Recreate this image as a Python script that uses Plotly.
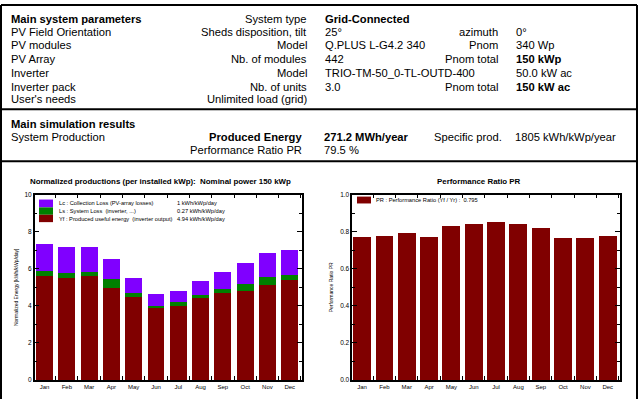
import plotly.graph_objects as go

# ---------------- data ----------------
months = ["Jan", "Feb", "Mar", "Apr", "May", "Jun", "Jul", "Aug", "Sep", "Oct", "Nov", "Dec"]
yf_values = [5.61, 5.50, 5.61, 4.97, 4.49, 3.86, 4.02, 4.44, 4.72, 4.81, 5.13, 5.40]   # produced useful energy
ls_values = [0.26, 0.28, 0.21, 0.49, 0.23, 0.14, 0.21, 0.17, 0.20, 0.36, 0.42, 0.26]   # system loss
lc_values = [1.49, 1.37, 1.33, 1.05, 0.78, 0.65, 0.58, 0.73, 0.90, 1.13, 1.28, 1.38]   # collection loss
pr_values = [0.770, 0.777, 0.791, 0.770, 0.830, 0.840, 0.851, 0.840, 0.818, 0.764, 0.764, 0.777]
energy_ticks = [0, 2, 4, 6, 8, 10]
pr_ticks = [0.0, 0.2, 0.4, 0.6, 0.8, 1.0]
pr_tick_labels = ["0.0", "0.2", "0.4", "0.6", "0.8", "1.0"]

C_LC = "#8000FF"
C_LS = "#008000"
C_YF = "#800000"

W, H = 639, 402
FONT = "Liberation Sans, Arial, sans-serif"


def X(px):
    return px / W


def Y(py):
    return 1 - py / H


fig = go.Figure()
fig.add_trace(go.Bar(x=months, y=yf_values, marker=dict(color=C_YF, line=dict(width=0)),
                     width=0.76, xaxis="x", yaxis="y", showlegend=False))
fig.add_trace(go.Bar(x=months, y=ls_values, marker=dict(color=C_LS, line=dict(width=0)),
                     width=0.76, xaxis="x", yaxis="y", showlegend=False))
fig.add_trace(go.Bar(x=months, y=lc_values, marker=dict(color=C_LC, line=dict(width=0)),
                     width=0.76, xaxis="x", yaxis="y", showlegend=False))
fig.add_trace(go.Bar(x=months, y=pr_values, marker=dict(color=C_YF, line=dict(width=0)),
                     width=0.8, xaxis="x2", yaxis="y2", showlegend=False))

plot_top, plot_bot = 194, 382.7
common_x = dict(type="category", range=[-0.44, 11.55], tickson="boundaries", ticks="inside",
                ticklen=4, tickwidth=1, tickcolor="black", mirror="ticks", showline=True,
                linecolor="black", linewidth=1.5, showgrid=False, zeroline=False,
                tickfont=dict(size=6, family=FONT, color="black"), fixedrange=True)
common_y = dict(ticks="inside", ticklen=5, tickwidth=1, tickcolor="black", mirror="ticks",
                showline=True, linecolor="black", linewidth=1.5, showgrid=False, zeroline=False,
                tickfont=dict(size=6.5, family=FONT, color="black"), fixedrange=True)

fig.update_layout(
    width=W, height=H,
    margin=dict(l=0, r=0, t=0, b=0),
    paper_bgcolor="white", plot_bgcolor="white",
    barmode="stack",
    showlegend=False,
    font=dict(family=FONT, color="black"),
    xaxis=dict(domain=[X(34.7), X(302)], anchor="y", **common_x),
    yaxis=dict(domain=[Y(plot_bot), Y(plot_top)], anchor="x", range=[0, 10],
               tickvals=energy_ticks,
               minor=dict(tickvals=[1, 3, 5, 7, 9], ticks="inside", ticklen=3, tickcolor="black"),
               title=dict(text="Normalized Energy [kWh/kWp/day]", font=dict(size=5, family=FONT),
                          standoff=6),
               **common_y),
    xaxis2=dict(domain=[X(352.3), X(620)], anchor="y2", **common_x),
    yaxis2=dict(domain=[Y(plot_bot), Y(plot_top)], anchor="x2", range=[0, 1.0],
                tickvals=pr_ticks, ticktext=pr_tick_labels,
                minor=dict(tickvals=[0.1, 0.3, 0.5, 0.7, 0.9], ticks="inside", ticklen=3,
                           tickcolor="black"),
                title=dict(text="Performance Ratio PR", font=dict(size=5, family=FONT),
                           standoff=6),
                **common_y),
)

shapes = []
# frame lines
frame = dict(type="line", xref="paper", yref="paper", line=dict(color="black", width=2))
shapes.append(dict(frame, x0=X(1), x1=X(637), y0=Y(1), y1=Y(1)))
shapes.append(dict(frame, x0=X(1), x1=X(1), y0=Y(1), y1=Y(402)))
shapes.append(dict(frame, x0=X(637), x1=X(637), y0=Y(1), y1=Y(402)))
shapes.append(dict(frame, x0=X(1), x1=X(637), y0=Y(107), y1=Y(107)))
shapes.append(dict(frame, x0=X(1), x1=X(637), y0=Y(160), y1=Y(160)))

# legend swatches
def rect(x0, x1, y0, y1, color):
    return dict(type="rect", xref="paper", yref="paper", x0=X(x0), x1=X(x1), y0=Y(y1), y1=Y(y0),
                fillcolor=color, line=dict(width=0))

shapes.append(rect(39, 53, 199, 207, C_LC))
shapes.append(rect(39, 53, 207, 214.5, C_LS))
shapes.append(rect(39, 53, 214.5, 222, C_YF))
shapes.append(rect(357, 371, 196, 203, C_YF))
fig.update_layout(shapes=shapes)

ann = []


def txt(x, y, s, anchor="left", size=11.2, bold=False):
    ann.append(dict(x=X(x), y=Y(y), xref="paper", yref="paper", text=(f"<b>{s}</b>" if bold else s),
                    showarrow=False, xanchor=anchor, yanchor="middle",
                    font=dict(size=size, family=FONT, color="black")))


# Section 1
rows = [15, 28, 42, 56, 70, 84, 97]
left_labels = ["Main system parameters", "PV Field Orientation", "PV modules", "PV Array",
               "Inverter", "Inverter pack", "User's needs"]
mid_labels = ["System type", "Sheds disposition, tilt", "Model", "Nb. of modules", "Model",
              "Nb. of units", "Unlimited load (grid)"]
values = ["Grid-Connected", "25°", "Q.PLUS L-G4.2 340", "442", "TRIO-TM-50_0-TL-OUTD-400", "3.0", ""]
for i, y in enumerate(rows):
    txt(9, y, left_labels[i], bold=(i == 0))
    txt(309, y, mid_labels[i], anchor="right")
    if values[i]:
        txt(323, y, values[i], bold=(i == 0))

txt(500, 28, "azimuth", anchor="right")
txt(514, 28, "0°")
txt(500, 42, "Pnom", anchor="right")
txt(514, 42, "340 Wp")
txt(500, 56, "Pnom total", anchor="right")
txt(514, 56, "150 kWp", bold=True)
txt(514, 70, "50.0 kW ac")
txt(500, 84, "Pnom total", anchor="right")
txt(514, 84, "150 kW ac", bold=True)

# Section 2
txt(9, 122, "Main simulation results", bold=True)
txt(9, 135, "System Production")
txt(304, 135, "Produced Energy", anchor="right", bold=True)
txt(322, 135, "271.2 MWh/year", bold=True)
txt(432, 135, "Specific prod.")
txt(513, 135, "1805 kWh/kWp/year")
txt(304, 149, "Performance Ratio PR", anchor="right")
txt(322, 149, "79.5 %")

# Chart titles
txt(160, 181, "Normalized productions (per installed kWp):  Nominal power 150 kWp", anchor="center",
    size=7.9, bold=True)
txt(479, 181, "Performance Ratio PR", anchor="center", size=7.9, bold=True)

# Legends
txt(57, 203, "Lc : Collection Loss (PV-array losses)", size=5.7)
txt(175, 203, "1 kWh/kWp/day", size=5.7)
txt(57, 211, "Ls : System Loss  (inverter, ...)", size=5.7)
txt(175, 211, "0.27 kWh/kWp/day", size=5.7)
txt(57, 218.5, "Yf : Produced useful energy  (inverter output)", size=5.7)
txt(175, 218.5, "4.94 kWh/kWp/day", size=5.7)
txt(374, 199.5, "PR : Performance Ratio (Yf / Yr) :  0.795", size=5.7)

fig.update_layout(annotations=ann)

fig.write_html("out.html", config={"displayModeBar": False},
               post_script="document.body.style.margin='0';")
